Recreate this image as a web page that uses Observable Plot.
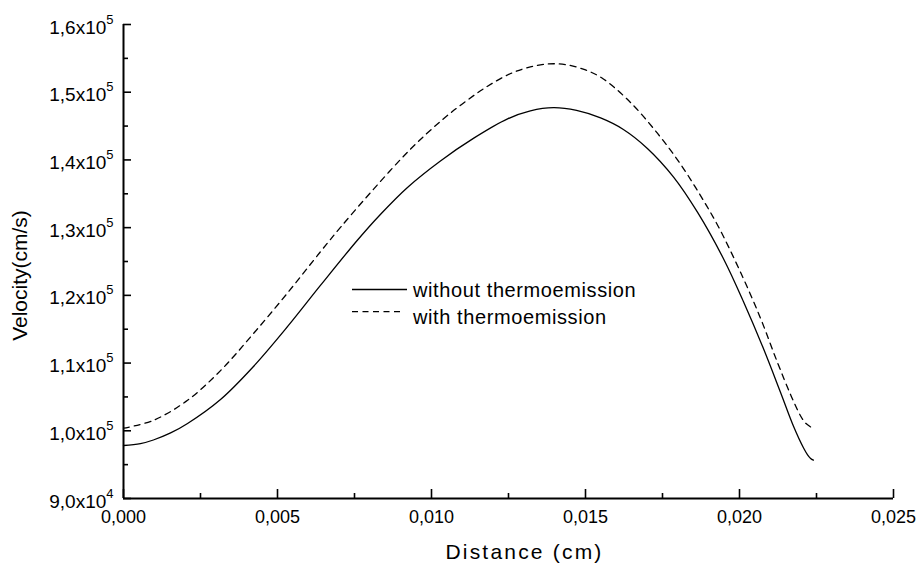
<!DOCTYPE html>
<html>
<head>
<meta charset="utf-8">
<script src="https://cdn.jsdelivr.net/npm/d3@7"></script>
<script src="https://cdn.jsdelivr.net/npm/@observablehq/plot@0.6"></script>
<style>
  html, body { margin: 0; padding: 0; background: #fff; }
  #chart { width: 921px; height: 570px; }
</style>
</head>
<body>
<div id="chart"></div>
<script>
// ---- data (Distance in cm, Velocity in cm/s) ----
const withoutX = [0.0000, 0.00055, 0.00097, 0.00153, 0.00208, 0.00315, 0.00422, 0.00533, 0.00640, 0.00760, 0.00834, 0.00922, 0.01029, 0.01136, 0.01247, 0.01321, 0.01396, 0.01471, 0.01549, 0.01623, 0.01701, 0.01786, 0.01864, 0.01948, 0.02013, 0.02078, 0.02133, 0.02175, 0.02208, 0.02221, 0.02231, 0.02240];
const withoutY = [97830, 98100, 98640, 99680, 101080, 104620, 109500, 115410, 121500, 128180, 131950, 135940, 139850, 143180, 146060, 147240, 147710, 147310, 146200, 144500, 141700, 137470, 132250, 125410, 119060, 112110, 105700, 100710, 97460, 96460, 95920, 95660];

const withX = [0.0000, 0.00097, 0.00208, 0.00315, 0.00422, 0.00533, 0.00640, 0.00705, 0.00812, 0.00932, 0.01033, 0.01110, 0.01182, 0.01257, 0.01321, 0.01380, 0.01435, 0.01500, 0.01558, 0.01646, 0.01734, 0.01809, 0.01873, 0.01932, 0.02003, 0.02068, 0.02123, 0.02166, 0.02198, 0.02214, 0.02231, 0.02237];
const withY = [100380, 101540, 104510, 108890, 114360, 120380, 126470, 130070, 135690, 141600, 145850, 148610, 150890, 152760, 153740, 154180, 154080, 153290, 151960, 148490, 143910, 139340, 134760, 130100, 123440, 116650, 110120, 105320, 102220, 101150, 100560, 100410];

const seriesNames = ["without thermoemission", "with thermoemission"];

const xTicks = [0, 0.005, 0.010, 0.015, 0.020, 0.025];
const xTickLabels = ["0,000", "0,005", "0,010", "0,015", "0,020", "0,025"];
const xMinor = [0.0025, 0.0075, 0.0125, 0.0175, 0.0225];

const yTicks = [90000, 100000, 110000, 120000, 130000, 140000, 150000, 160000];
const yTickLabels = ["9,0x10^4", "1,0x10^5", "1,1x10^5", "1,2x10^5", "1,3x10^5", "1,4x10^5", "1,5x10^5", "1,6x10^5"];
const yMinor = [95000, 105000, 115000, 125000, 135000, 145000, 155000];

const xTitle = "Distance (cm)";
const yTitle = "Velocity(cm/s)";

// ---- build tables ----
const solid = withoutX.map((x, i) => ({x, y: withoutY[i]}));
const dashed = withX.map((x, i) => ({x, y: withY[i]}));

const FONT = "'Liberation Sans', Arial, Helvetica, sans-serif";
const blank = () => "";

const chart = Plot.plot({
  width: 921,
  height: 570,
  marginLeft: 123,
  marginRight: 28,
  marginTop: 24,
  marginBottom: 72,
  x: {domain: [0, 0.025]},
  y: {domain: [90000, 160000]},
  style: {fontFamily: FONT, color: "black", background: "white", overflow: "visible"},
  marks: [
    Plot.line(solid, {x: "x", y: "y", curve: "catmull-rom", stroke: "black", strokeWidth: 1.3}),
    Plot.line(dashed, {x: "x", y: "y", curve: "catmull-rom", stroke: "black", strokeWidth: 1.3, strokeDasharray: "6,5"}),
    Plot.ruleX([0], {stroke: "black", strokeWidth: 2}),
    Plot.ruleY([90000], {stroke: "black", strokeWidth: 2}),
    Plot.axisY({ticks: yTicks, tickSize: 8, dx: 8, strokeWidth: 1.6, tickFormat: blank, label: null}),
    Plot.axisY({ticks: yMinor, tickSize: 5, dx: 5, strokeWidth: 1.6, tickFormat: blank, label: null}),
    Plot.axisX({ticks: xTicks, tickSize: 9, dy: -9, strokeWidth: 1.6, tickFormat: blank, label: null}),
    Plot.axisX({ticks: xMinor, tickSize: 5, dy: -5, strokeWidth: 1.6, tickFormat: blank, label: null}),
    Plot.axisY({ticks: yTicks, tickSize: 0, tickPadding: 10, dy: 3, fontSize: 19, fill: "black", label: null,
      tickFormat: d => yTickLabels[yTicks.indexOf(d)]}),
    Plot.axisX({ticks: xTicks, tickSize: 0, tickPadding: 12, fontSize: 18, fill: "black", label: null,
      tickFormat: d => xTickLabels[xTicks.indexOf(d)]}),
    Plot.text([xTitle], {frameAnchor: "bottom", textAnchor: "middle", dx: 16, dy: 54, lineAnchor: "middle", fontSize: 21, fill: "black"}),
    Plot.text([yTitle], {frameAnchor: "left", textAnchor: "middle", rotate: -90, dx: -103, dy: 14, lineAnchor: "middle", fontSize: 21, fill: "black"})
  ]
});

document.getElementById("chart").appendChild(chart);

const svg = d3.select(chart);

// superscripts on y tick labels
svg.selectAll("text").each(function() {
  const t = d3.select(this);
  const s = t.text();
  const parts = s.split("^");
  if (parts.length === 2 && yTickLabels.includes(s)) {
    t.text(null);
    t.append("tspan").text(parts[0]);
    t.append("tspan").attr("dy", -10).attr("font-size", 13).text(parts[1]);
  }
});

// spacing on x title to match reference width
svg.selectAll("text").filter(function() { return d3.select(this).text() === xTitle; })
  .style("letter-spacing", "2.2px");

// legend (inside plot area)
const leg = svg.append("g").attr("font-family", FONT).attr("font-size", 20).attr("fill", "black").attr("text-anchor", "start");
const legendRows = [
  {name: seriesNames[0], ly: 289.5, ty: 296.5, dash: null, x2: 407},
  {name: seriesNames[1], ly: 311.7, ty: 324, dash: "6,4.5", x2: 400}
];
legendRows.forEach(r => {
  leg.append("line").attr("x1", 352).attr("x2", r.x2).attr("y1", r.ly).attr("y2", r.ly)
    .attr("stroke", "black").attr("stroke-width", 1.3).attr("stroke-dasharray", r.dash);
  leg.append("text").attr("x", 413).attr("y", r.ty).attr("text-anchor", "start").style("letter-spacing", "0.6px").text(r.name);
});
</script>
</body>
</html>
